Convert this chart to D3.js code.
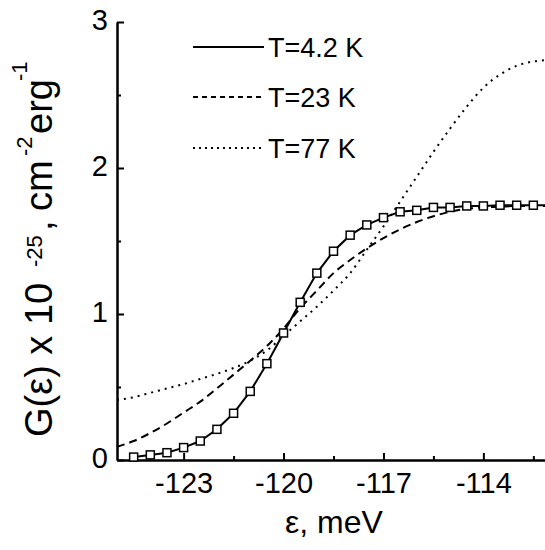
<!DOCTYPE html>
<html>
<head>
<meta charset="utf-8">
<script src="https://cdn.jsdelivr.net/npm/d3@7"></script>
<style>
  body { margin:0; background:#fff; }
  svg text { font-family: "Liberation Sans", Arial, sans-serif; fill:#000; }
</style>
</head>
<body>
<script>
// energies (meV) of the measured points, T=4.2 K
var xSquares = [-124.5,-124,-123.5,-123,-122.5,-122,-121.5,-121,-120.5,-120,-119.5,-119,-118.5,-118,
                -117.5,-117,-116.5,-116,-115.5,-115,-114.5,-114,-113.5,-113,-112.5,-112]
var gSquares = [0.02,0.035,0.05,0.085,0.13,0.21,0.32,0.47,0.66,0.87,1.08,1.28,1.43,1.54,
                1.61,1.66,1.70,1.71,1.73,1.73,1.74,1.74,1.745,1.745,1.745,1.745]

// smooth curves, T=23 K and T=77 K
var xCurve = [-125,-124.5,-124,-123.5,-123,-122.5,-122,-121.5,-121,-120.5,-120,-119.5,-119,-118.5,
              -118,-117.5,-117,-116.5,-116,-115.5,-115,-114.5,-114,-113.5,-113,-112.5,-112]
var g23 = [0.09,0.13,0.185,0.25,0.325,0.40,0.49,0.585,0.68,0.78,0.90,1.04,1.16,1.28,
           1.37,1.45,1.52,1.58,1.63,1.67,1.70,1.72,1.73,1.735,1.74,1.74,1.74]
var g77 = [0.41,0.43,0.46,0.49,0.52,0.555,0.59,0.63,0.68,0.75,0.85,0.95,1.05,1.16,
           1.28,1.44,1.60,1.77,1.94,2.11,2.27,2.42,2.55,2.64,2.70,2.73,2.74]

var xTicks = [-123,-120,-117,-114]
var xMinor = [-124.5,-121.5,-118.5,-115.5,-112.5]
var yTicks = [0,1,2,3]
var yMinor = [0.5,1.5,2.5]
var legendLabels = ["T=4.2 K","T=23 K","T=77 K"]

function main() {

   var svg = d3.select("body")
               .append("svg")
               .attr("width",545)
               .attr("height",550)

   var x = d3.scaleLinear().domain([-125,-112]).range([117,550])
   var y = d3.scaleLinear().domain([0,3]).range([460,22])

   // minor ticks first
   svg.append("g")
      .attr("transform","translate(0,460)")
      .call(d3.axisBottom(x).tickValues(xMinor).tickSizeInner(-4).tickSizeOuter(0).tickFormat(""))
   svg.append("g")
      .attr("transform","translate(117,0)")
      .call(d3.axisLeft(y).tickValues(yMinor).tickSizeInner(-4).tickSizeOuter(0).tickFormat(""))

   var xAxis = svg.append("g")
                  .attr("transform","translate(0,460)")
                  .call(d3.axisBottom(x).tickValues(xTicks).tickSizeInner(-7).tickSizeOuter(0).tickPadding(12).tickFormat(d3.format("d")))
   var yAxis = svg.append("g")
                  .attr("transform","translate(117,0)")
                  .call(d3.axisLeft(y).tickValues(yTicks).tickSizeInner(-7).tickSizeOuter(0).tickPadding(9).tickFormat(d3.format("d")))

   svg.selectAll(".domain, .tick line")
      .attr("stroke","#000")
      .attr("stroke-width",2)
   svg.selectAll(".tick text")
      .attr("font-size",29)
      .attr("font-family","Liberation Sans, Arial, sans-serif")
   xAxis.selectAll(".tick text").text(function(d){ return d3.format("d")(d).replace("\u2212","-") })
   yAxis.selectAll(".tick text").attr("dy","0.25em")

   var line = d3.line()
                .x(function(d){ return x(d[0]) })
                .y(function(d){ return y(d[1]) })
   var smooth = d3.line()
                  .curve(d3.curveMonotoneX)
                  .x(function(d){ return x(d[0]) })
                  .y(function(d){ return y(d[1]) })

   var plot = svg.append("g")

   plot.append("path")
       .attr("d",smooth(d3.zip(xCurve,g77)))
       .attr("fill","none")
       .attr("stroke","#000")
       .attr("stroke-width",2)
       .attr("stroke-dasharray","2,5")

   plot.append("path")
       .attr("d",smooth(d3.zip(xCurve,g23)))
       .attr("fill","none")
       .attr("stroke","#000")
       .attr("stroke-width",2)
       .attr("stroke-dasharray","8,5")

   var pts = d3.zip(xSquares,gSquares)
   plot.append("path")
       .attr("d",line(pts))
       .attr("fill","none")
       .attr("stroke","#000")
       .attr("stroke-width",2)

   plot.selectAll("rect.pt")
       .data(pts)
       .enter()
       .append("rect")
       .attr("class","pt")
       .attr("x",function(d){ return x(d[0])-4 })
       .attr("y",function(d){ return y(d[1])-4 })
       .attr("width",8)
       .attr("height",8)
       .attr("fill","#fff")
       .attr("stroke","#000")
       .attr("stroke-width",1.5)

   // legend
   var dashes = [null,"5,4","2,4"]
   var leg = svg.selectAll("g.leg")
                .data(legendLabels)
                .enter()
                .append("g")
                .attr("class","leg")
                .attr("transform",function(d,i){ return "translate(0," + [47,97,148][i] + ")" })
   leg.append("line")
      .attr("x1",193).attr("x2",264)
      .attr("stroke","#000")
      .attr("stroke-width",2)
      .attr("stroke-dasharray",function(d,i){ return dashes[i] })
   leg.append("text")
      .attr("x",268)
      .attr("y",5)
      .attr("font-size",27)
      .attr("dy","0.35em")
      .attr("dy",null)
      .attr("y",10)
      .text(function(d){ return d })

   // axis titles
   svg.append("text")
      .attr("x",285)
      .attr("y",533)
      .attr("font-size",32)
      .text("\u03b5, meV")

   var yt = svg.append("text")
               .attr("transform","rotate(-90)")
   var parts = [
     ["G(\u03b5) x 10",-437,52,38],
     ["-25",-267,42,22],
     [",",-231,52,38],
     ["cm",-211,52,38],
     ["-2",-156,32,22],
     ["erg",-134,52,38],
     ["-1",-81,27,22]
   ]
   parts.forEach(function(p){
     yt.append("tspan")
       .attr("x",p[1])
       .attr("y",p[2])
       .attr("font-size",p[3])
       .text(p[0])
   })

}

main()
</script>
</body>
</html>
